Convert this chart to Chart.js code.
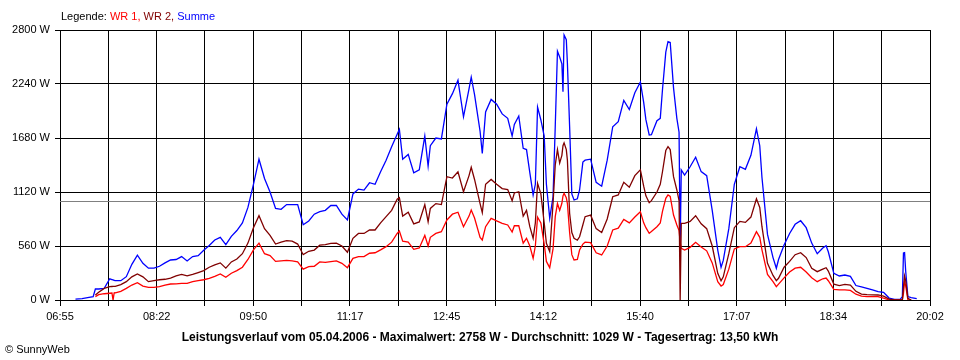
<!DOCTYPE html>
<html>
<head>
<meta charset="utf-8">
<script src="https://cdn.jsdelivr.net/npm/chart.js@4.4.0/dist/chart.umd.min.js"></script>
<style>
html,body{margin:0;padding:0;background:#fff;}
#wrap{position:relative;width:960px;height:360px;overflow:hidden;}
canvas{position:absolute;left:0;top:0;}
.txt{position:absolute;font-family:"Liberation Sans",Arial,sans-serif;white-space:nowrap;color:#000;}
#legend{left:61px;top:10px;font-size:11px;line-height:13px;}
#caption{left:0;width:960px;text-align:center;top:330px;font-size:12px;font-weight:bold;line-height:14px;}
#copy{left:5px;top:343px;font-size:11px;line-height:13px;}
</style>
</head>
<body>
<div id="wrap">
<canvas id="c" width="960" height="360"></canvas>
<div id="legend" class="txt"></div>
<div id="caption" class="txt">Leistungsverlauf vom 05.04.2006 - Maximalwert: 2758 W - Durchschnitt: 1029 W - Tagesertrag: 13,50 kWh</div>
<div id="copy" class="txt">© SunnyWeb</div>
</div>
<script>
// ---- data ----
const seriesNames = ['WR 1', 'WR 2', 'Summe'];
const seriesColors = ['#ff0000', '#800000', '#0000ff'];

const xTickLabels = ['06:55','08:22','09:50','11:17','12:45','14:12','15:40','17:07','18:34','20:02'];
const yMax = 2800;
const yStep = 560;
const avgValue = 1029;

const times = [
'07:09','07:15','07:20','07:25','07:27','07:30','07:35','07:40','07:42','07:43','07:44','07:45','07:50','07:55',
'08:00','08:05','08:10','08:15','08:20','08:25','08:30','08:35','08:40','08:45','08:50','08:55',
'09:00','09:05','09:10','09:15','09:20','09:25','09:30','09:35','09:40','09:45','09:50','09:55',
'10:00','10:05','10:10','10:15','10:20','10:25','10:30','10:35','10:40','10:45','10:50','10:55',
'11:00','11:05','11:10','11:15','11:20','11:25','11:30','11:35','11:40','11:45','11:50','11:55',
'12:00','12:02','12:05','12:10','12:15','12:20','12:25','12:28','12:30','12:35','12:40','12:45','12:50','12:55',
'13:00','13:05','13:07','13:10','13:15','13:17','13:20','13:25','13:30','13:35','13:40','13:44','13:46','13:50','13:54','13:57',
'14:00','14:03','14:05','14:07','14:10','14:13','14:15','14:18','14:21','14:23','14:25','14:27','14:29','14:30','14:31','14:33','14:34','14:36','14:38','14:40','14:43','14:45','14:48','14:50','14:55',
'15:00','15:05','15:10','15:15','15:20','15:25','15:30','15:35','15:40','15:43','15:45','15:48','15:50','15:55','15:58',
'16:00','16:03','16:05','16:07','16:10','16:13','16:15','16:16','16:17','16:20','16:25','16:30','16:35','16:40','16:45','16:50','16:53','16:55',
'17:00','17:05','17:10','17:15','17:20','17:25','17:28','17:30','17:35','17:40','17:43','17:45','17:50','17:55',
'18:00','18:05','18:10','18:15','18:20','18:25','18:28','18:30','18:35','18:40','18:45','18:50','18:55',
'19:00','19:05','19:10','19:15','19:20','19:25','19:30','19:35','19:37','19:38','19:39','19:40','19:42','19:45','19:50'
];

const summe = [
10,15,25,35,114,114,120,220,212,208,204,200,200,242,
370,465,380,330,330,350,385,415,420,450,405,450,
460,515,565,622,650,575,660,720,800,960,1200,1460,
1260,1120,950,940,990,990,990,780,820,890,916,930,
980,980,890,830,1100,1150,1140,1216,1200,1330,1450,1590,
1720,1770,1460,1510,1320,1350,1700,1390,1600,1680,1670,2030,2140,2280,
1900,2190,2310,2130,1750,1521,1950,2080,2030,1930,1884,1700,1820,1908,1573,1560,
1320,1089,1200,2000,1867,1700,1200,847,1071,1800,2580,2520,2450,2160,2748,2700,2455,1800,1100,1037,1050,1141,1430,1450,1460,
1220,1180,1450,1797,1850,2070,1975,2150,2260,2050,1870,1711,1715,1860,1884,
2180,2570,2679,2670,2200,1884,1740,540,1350,1296,1382,1480,1331,1290,930,518,339,410,
740,1200,1382,1355,1500,1775,1600,1270,680,440,329,420,570,690,
785,822,750,590,480,540,563,500,277,249,259,245,150,
135,120,105,86,80,20,7,7,35,487,491,300,35,25,14
];

const wr2 = [
null,null,null,null,52,80,120,138,140,141,142,142,160,190,
240,270,240,190,200,210,215,228,250,265,250,265,
285,305,340,365,385,330,395,425,480,590,750,875,
740,670,580,600,615,610,580,470,505,518,568,575,
588,590,560,495,640,690,690,726,726,800,864,930,
1045,1061,870,910,790,810,990,812,950,1000,990,1279,1265,1330,
1123,1290,1376,1250,1000,906,1200,1250,1200,1155,1145,1030,1110,1123,870,930,
760,640,800,1210,1100,800,588,501,1000,1400,1560,1420,1500,1600,1630,1560,1450,900,700,640,620,656,780,864,880,
740,700,840,1071,1090,1220,1170,1290,1350,1180,1080,1009,1030,1120,1200,
1330,1550,1590,1560,1279,1141,1030,0,795,795,815,874,790,740,560,277,200,240,
480,750,815,805,860,1050,960,760,380,255,200,225,340,400,
470,491,440,330,294,320,335,300,165,150,162,155,90,
62,55,53,52,40,10,0,0,0,138,249,200,17,0,null
];

const wr1 = [
null,null,null,null,35,55,65,70,72,0,74,75,90,121,
155,180,145,131,131,138,155,166,168,173,173,190,
200,210,225,245,270,235,277,305,340,420,520,590,
480,460,400,405,410,405,395,320,346,350,395,390,
397,405,380,335,432,450,450,485,490,520,553,600,
690,716,610,600,525,540,670,560,650,690,708,830,890,910,
760,870,933,850,650,622,760,847,820,795,778,705,770,770,590,640,
560,432,560,860,800,580,400,335,530,864,1000,930,1003,1080,1106,1060,1000,700,470,415,420,518,580,600,594,
490,467,560,726,745,835,800,860,916,800,750,692,710,760,800,
920,1054,1089,1075,881,778,720,600,536,518,546,598,550,510,385,190,145,160,
320,530,553,553,590,708,650,520,265,190,138,165,230,290,
330,339,290,230,190,220,228,200,111,104,104,100,60,
40,35,35,35,20,0,0,0,0,69,190,150,0,0,null
];

// ---- helpers ----
function toMin(t){ const p = t.split(':'); return (+p[0]) * 60 + (+p[1]); }
function pts(arr){ return times.map((t, i) => ({ x: toMin(t), y: arr[i] })); }

const xMin = toMin(xTickLabels[0]);
const xMax = toMin(xTickLabels[xTickLabels.length - 1]);
const gridDiv = (xTickLabels.length - 1) * 2;

// legend text (real text, coloured)
const legendEl = document.getElementById('legend');
legendEl.appendChild(document.createTextNode('Legende: '));
seriesNames.forEach((n, i) => {
  const s = document.createElement('span');
  s.style.color = seriesColors[i];
  s.textContent = n + (i < seriesNames.length - 1 ? ', ' : '');
  legendEl.appendChild(s);
});

const avgLine = {
  id: 'avgLine',
  beforeDatasetsDraw(chart) {
    const a = chart.chartArea, ctx = chart.ctx;
    const y = Math.round(chart.scales.y.getPixelForValue(avgValue)) + 0.5;
    ctx.save();
    ctx.strokeStyle = '#808080';
    ctx.lineWidth = 1;
    ctx.beginPath();
    ctx.moveTo(a.left, y);
    ctx.lineTo(a.right, y);
    ctx.stroke();
    ctx.restore();
  }
};

Chart.defaults.font.family = '"Liberation Sans", Arial, sans-serif';
Chart.defaults.font.size = 11;
Chart.defaults.color = '#000';

const drawOrder = [1, 0, 2]; // WR 2 on top, then WR 1, Summe underneath

new Chart(document.getElementById('c'), {
  type: 'line',
  data: {
    datasets: drawOrder.map((i) => ({
      label: seriesNames[i],
      data: pts([wr1, wr2, summe][i]),
      borderColor: seriesColors[i],
      backgroundColor: seriesColors[i],
      borderWidth: 1.3,
      pointRadius: 0,
      tension: 0,
      spanGaps: false,
      fill: false
    }))
  },
  options: {
    responsive: false,
    animation: false,
    devicePixelRatio: 1,
    layout: { padding: { top: 30, right: 30, left: 0, bottom: 0 } },
    plugins: { legend: { display: false }, tooltip: { enabled: false }, title: { display: false } },
    scales: {
      x: {
        type: 'linear',
        min: xMin,
        max: xMax,
        afterBuildTicks: (s) => {
          const t = [];
          for (let i = 0; i <= gridDiv; i++) t.push({ value: xMin + (xMax - xMin) * i / gridDiv });
          s.ticks = t;
        },
        afterFit: (s) => { s.height = 60; },
        ticks: {
          autoSkip: false,
          maxRotation: 0,
          padding: 4,
          callback: (v, i) => (i % 2 === 0 ? xTickLabels[i / 2] : '')
        },
        grid: { color: '#000', lineWidth: 1, tickLength: 6, drawTicks: true },
        border: { color: '#000', width: 1 }
      },
      y: {
        min: 0,
        max: yMax,
        afterFit: (s) => { s.width = 60; },
        ticks: { stepSize: yStep, padding: 5, callback: (v) => v + ' W' },
        grid: { color: '#000', lineWidth: 1, tickLength: 5, drawTicks: true },
        border: { color: '#000', width: 1 }
      }
    }
  },
  plugins: [avgLine]
});
</script>
</body>
</html>
